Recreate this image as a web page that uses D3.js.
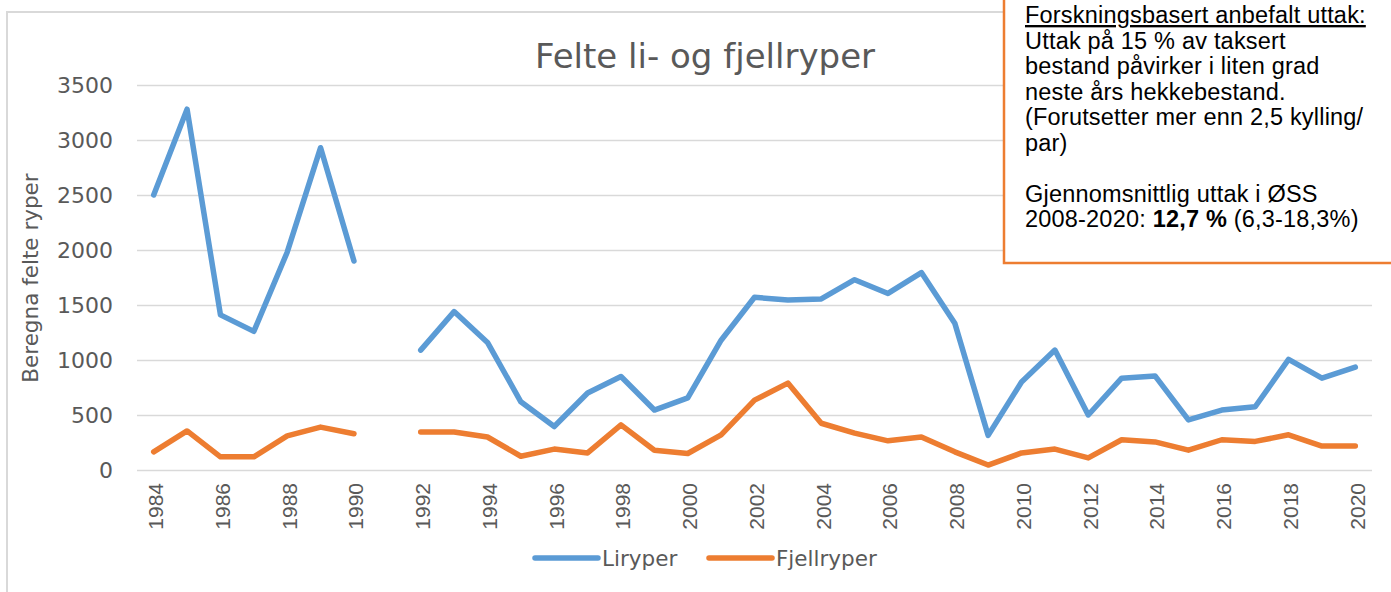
<!DOCTYPE html>
<html>
<head>
<meta charset="utf-8">
<script src="https://cdn.jsdelivr.net/npm/d3@7"></script>
<style>
  html, body { margin: 0; padding: 0; background: #ffffff; }
  svg { display: block; }
</style>
</head>
<body>
<svg id="chart"></svg>
<script>
const years = ['1984', '1985', '1986', '1987', '1988', '1989', '1990', '1991', '1992', '1993',
  '1994', '1995', '1996', '1997', '1998', '1999', '2000', '2001', '2002', '2003', '2004',
  '2005', '2006', '2007', '2008', '2009', '2010', '2011', '2012', '2013', '2014', '2015',
  '2016', '2017', '2018', '2019', '2020'];

const liryper = [2500, 3280, 1410, 1260, 1980, 2930, 1900, null, 1090, 1440, 1160, 620, 395,
  700, 850, 545, 655, 1180, 1570, 1545, 1555, 1730, 1605, 1795, 1335, 315, 800, 1090, 500,
  835, 855, 455, 545, 575, 1005, 835, 935];

const fjellryper = [165, 355, 120, 120, 310, 390, 330, null, 345, 345, 300, 125, 190, 155,
  410, 180, 150, 320, 635, 790, 425, 335, 265, 300, 165, 45, 155, 190, 110, 275, 255, 180,
  275, 260, 320, 218, 218];

const yTicks = [0, 500, 1000, 1500, 2000, 2500, 3000, 3500];
const xTicks = ['1984', '1986', '1988', '1990', '1992', '1994', '1996', '1998', '2000', '2002',
  '2004', '2006', '2008', '2010', '2012', '2014', '2016', '2018', '2020'];

const series = [
  { name: 'Liryper', values: liryper, color: '#5B9BD5' },
  { name: 'Fjellryper', values: fjellryper, color: '#ED7D31' }
];

const noteLines = [
  'Uttak på 15 % av taksert',
  'bestand påvirker i liten grad',
  'neste års hekkebestand.',
  '(Forutsetter mer enn 2,5 kylling/',
  'par)',
  ''
];

const W = 1391, H = 592;
const plot = { left: 137, right: 1372, top: 85, bottom: 470 };
const gridColor = '#d9d9d9';
const textColor = '#595959';
const chartFont = '"DejaVu Sans", sans-serif';

const svg = d3.select('#chart')
  .attr('width', W)
  .attr('height', H);

// chart area frame (only top and left are visible in the crop)
svg.append('rect')
  .attr('x', 7)
  .attr('y', 12)
  .attr('width', W + 50)
  .attr('height', H + 50)
  .attr('fill', '#ffffff')
  .attr('stroke', gridColor)
  .attr('stroke-width', 2);

const x = d3.scalePoint()
  .domain(years)
  .range([plot.left, plot.right])
  .padding(0.5);

const y = d3.scaleLinear()
  .domain([0, 3500])
  .range([plot.bottom, plot.top]);

// y axis with gridlines
const yAxis = svg.append('g')
  .attr('transform', `translate(${plot.left},0)`)
  .call(d3.axisLeft(y)
    .tickValues(yTicks)
    .tickFormat(d3.format('d'))
    .tickSize(-(plot.right - plot.left))
    .tickPadding(24));

yAxis.select('.domain').remove();
yAxis.selectAll('.tick line')
  .attr('stroke', gridColor)
  .attr('stroke-width', 1.6);
yAxis.selectAll('.tick text')
  .attr('fill', textColor)
  .attr('font-family', chartFont)
  .attr('font-size', 22)
  .attr('dy', '0.36em');

// x axis, rotated year labels
const xAxis = svg.append('g')
  .attr('transform', `translate(0,${plot.bottom})`)
  .call(d3.axisBottom(x).tickValues(xTicks).tickSize(0));

xAxis.select('.domain').remove();
xAxis.selectAll('.tick text')
  .attr('fill', textColor)
  .attr('font-family', '"Liberation Sans", Arial, sans-serif')
  .attr('font-size', 21)
  .attr('text-anchor', 'end')
  .attr('transform', 'translate(0,13) rotate(-90)')
  .attr('x', 0)
  .attr('y', 0)
  .attr('dy', '0.42em');

// lines
const line = d3.line()
  .defined(d => d.v != null)
  .x(d => x(d.year))
  .y(d => y(d.v));

series.forEach(s => {
  svg.append('path')
    .datum(years.map((yr, i) => ({ year: yr, v: s.values[i] })))
    .attr('fill', 'none')
    .attr('stroke', s.color)
    .attr('stroke-width', 5.5)
    .attr('stroke-linejoin', 'round')
    .attr('stroke-linecap', 'round')
    .attr('d', line);
});

// title
svg.append('text')
  .attr('x', 705)
  .attr('y', 68)
  .attr('text-anchor', 'middle')
  .attr('fill', textColor)
  .attr('font-family', chartFont)
  .attr('font-size', 34)
  .text('Felte li- og fjellryper');

// y axis title
svg.append('text')
  .attr('transform', 'translate(38,278) rotate(-90)')
  .attr('text-anchor', 'middle')
  .attr('fill', textColor)
  .attr('font-family', chartFont)
  .attr('font-size', 21.5)
  .text('Beregna felte ryper');

// legend
const legendX = [535, 709];
const legend = svg.append('g')
  .selectAll('g')
  .data(series)
  .enter().append('g')
  .attr('transform', (d, i) => `translate(${legendX[i]},558)`);

legend.append('line')
  .attr('x1', 0)
  .attr('x2', 63)
  .attr('stroke', d => d.color)
  .attr('stroke-width', 5.5)
  .attr('stroke-linecap', 'round');

legend.append('text')
  .attr('x', 67)
  .attr('y', 7.5)
  .attr('fill', textColor)
  .attr('font-family', chartFont)
  .attr('font-size', 21.5)
  .text(d => d.name);

// note box in the upper right corner
const note = svg.append('g');

note.append('rect')
  .attr('x', 1004)
  .attr('y', -10)
  .attr('width', 420)
  .attr('height', 273)
  .attr('fill', '#ffffff')
  .attr('stroke', '#ED7D31')
  .attr('stroke-width', 2.5);

const lineH = 25.5;
const noteText = note.append('text')
  .attr('font-family', '"Liberation Sans", Arial, sans-serif')
  .attr('font-size', 23.5)
  .attr('letter-spacing', 0.2)
  .attr('fill', '#000000');

noteText.append('tspan')
  .attr('x', 1025)
  .attr('y', 23)
  .attr('text-decoration', 'underline')
  .text('Forskningsbasert anbefalt uttak:');

noteLines.forEach((t, i) => {
  noteText.append('tspan')
    .attr('x', 1025)
    .attr('y', 23 + (i + 1) * lineH)
    .text(t);
});

noteText.append('tspan')
  .attr('x', 1025)
  .attr('y', 23 + 7 * lineH)
  .text('Gjennomsnittlig uttak i ØSS');

noteText.append('tspan')
  .attr('x', 1025)
  .attr('y', 23 + 8 * lineH)
  .text('2008-2020: ');
noteText.append('tspan').attr('font-weight', 'bold').text('12,7 %');
noteText.append('tspan').text(' (6,3-18,3%)');
</script>
</body>
</html>
